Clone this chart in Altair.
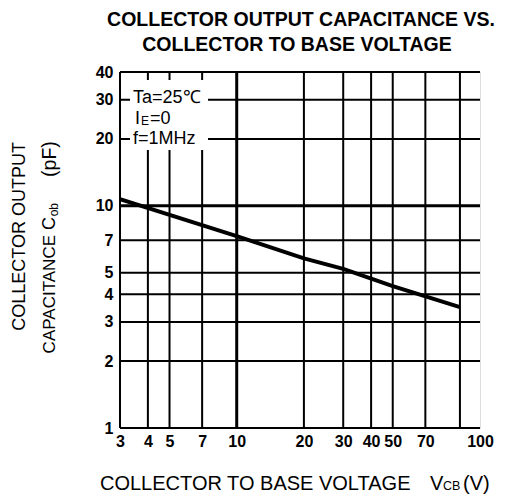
import altair as alt
import pandas as pd

# ---- data ----
vcb = [3, 10, 20, 30, 50, 100]            # collector-to-base voltage (V)
cob = [10.7, 7.3, 5.8, 5.2, 4.35, 3.5]    # output capacitance (pF)

x_grid = [3, 4, 5, 7, 10, 20, 30, 40, 50, 70, 100]
y_grid = [1, 2, 3, 4, 5, 7, 10, 20, 30, 40]
x_tick_values = [3, 4, 5, 7, 10, 20, 30, 40, 50, 70, 123]   # last one printed "100" at the frame
y_tick_values = [1, 2, 3, 4, 5, 7, 10, 20, 30, 40]

title_lines = ["COLLECTOR OUTPUT CAPACITANCE VS.", "COLLECTOR TO BASE VOLTAGE"]
cond_lines = ["Ta=25℃", "I", "E", "=0", "f=1MHz"]

FONT = "Liberation Sans"
X_DOMAIN = [3, 123]
Y_DOMAIN = [1, 40]

xs = alt.Scale(type="log", domain=X_DOMAIN, nice=False)
ys = alt.Scale(type="log", domain=Y_DOMAIN, nice=False)

curve_df = pd.DataFrame({"vcb": vcb, "cob": cob})
xg_df = pd.DataFrame({"v": x_grid, "w": [3 if v == 10 else 2 for v in x_grid]})
yg_df = pd.DataFrame({"v": y_grid, "w": [3 if v == 10 else 2 for v in y_grid]})

vgrid = alt.Chart(xg_df).mark_rule(color="black").encode(
    x=alt.X("v:Q", scale=xs, axis=alt.Axis(
        values=x_tick_values, grid=False, ticks=False, domain=False, title=None,
        labelFont=FONT, labelFontSize=16, labelFontWeight="bold", labelColor="black",
        labelPadding=5, labelFlush=False, labelOverlap=False,
        labelExpr="datum.value > 110 ? '100' : datum.label")),
    strokeWidth=alt.StrokeWidth("w:Q", scale=None),
)
hgrid = alt.Chart(yg_df).mark_rule(color="black").encode(
    y=alt.Y("v:Q", scale=ys, axis=alt.Axis(
        values=y_tick_values, grid=False, ticks=False, domain=False, title=None,
        labelFont=FONT, labelFontSize=16, labelFontWeight="bold", labelColor="black",
        labelPadding=7, labelFlush=False, labelOverlap=False)),
    strokeWidth=alt.StrokeWidth("w:Q", scale=None),
)

# white box behind the test conditions
box = alt.Chart(pd.DataFrame({"a": [0]})).mark_rect(color="white").encode(
    x=alt.value(10), x2=alt.value(88), y=alt.value(8), y2=alt.value(78))

curve = alt.Chart(curve_df).mark_line(color="black", strokeWidth=4, clip=True).encode(
    x=alt.X("vcb:Q", scale=xs), y=alt.Y("cob:Q", scale=ys))


def txt(s, x, y, size, weight="normal", align="left", angle=0, baseline="alphabetic"):
    return alt.Chart(pd.DataFrame({"t": [s]})).mark_text(
        font=FONT, fontSize=size, fontWeight=weight, align=align, angle=angle,
        baseline=baseline, color="black").encode(
        x=alt.value(x), y=alt.value(y), text="t:N")


texts = [
    txt(title_lines[0], 181, -46, 19.5, "bold", "center"),
    txt(title_lines[1], 177, -21, 19.5, "bold", "center"),
    # test conditions
    txt(cond_lines[0], 13, 25.5, 18, baseline="middle"),
    txt(cond_lines[1], 15, 47, 18, baseline="middle"),
    txt(cond_lines[2], 21, 49, 12, baseline="middle"),
    txt(cond_lines[3], 30, 47, 18, baseline="middle"),
    txt(cond_lines[4], 13, 67, 18, baseline="middle"),
    # x axis title
    txt("COLLECTOR TO BASE VOLTAGE", -20, 418, 20),
    txt("V", 310, 418, 20),
    txt("CB", 323, 418, 12.5),
    txt("(V)", 343, 418, 20),
    # y axis title (rotated)
    txt("COLLECTOR OUTPUT", -100, 70, 18, align="right", angle=270, baseline="middle"),
    txt("CAPACITANCE", -70, 163, 17, align="right", angle=270, baseline="middle"),
    txt("C", -70, 145, 18, align="right", angle=270, baseline="middle"),
    txt("ob", -66, 131, 12, align="right", angle=270, baseline="middle"),
    txt("(pF)", -70, 87, 19.5, align="center", angle=270, baseline="middle"),
]

chart = alt.layer(vgrid, hgrid, box, curve, *texts).properties(
    width=360, height=356,
    autosize=alt.AutoSizeParams(type="none"),
    padding={"left": 112, "top": 64, "right": 20, "bottom": 66},
).configure_view(stroke="black", strokeWidth=3).configure(background="white")

chart.save("out.html", embed_options={"renderer": "svg", "actions": False})
